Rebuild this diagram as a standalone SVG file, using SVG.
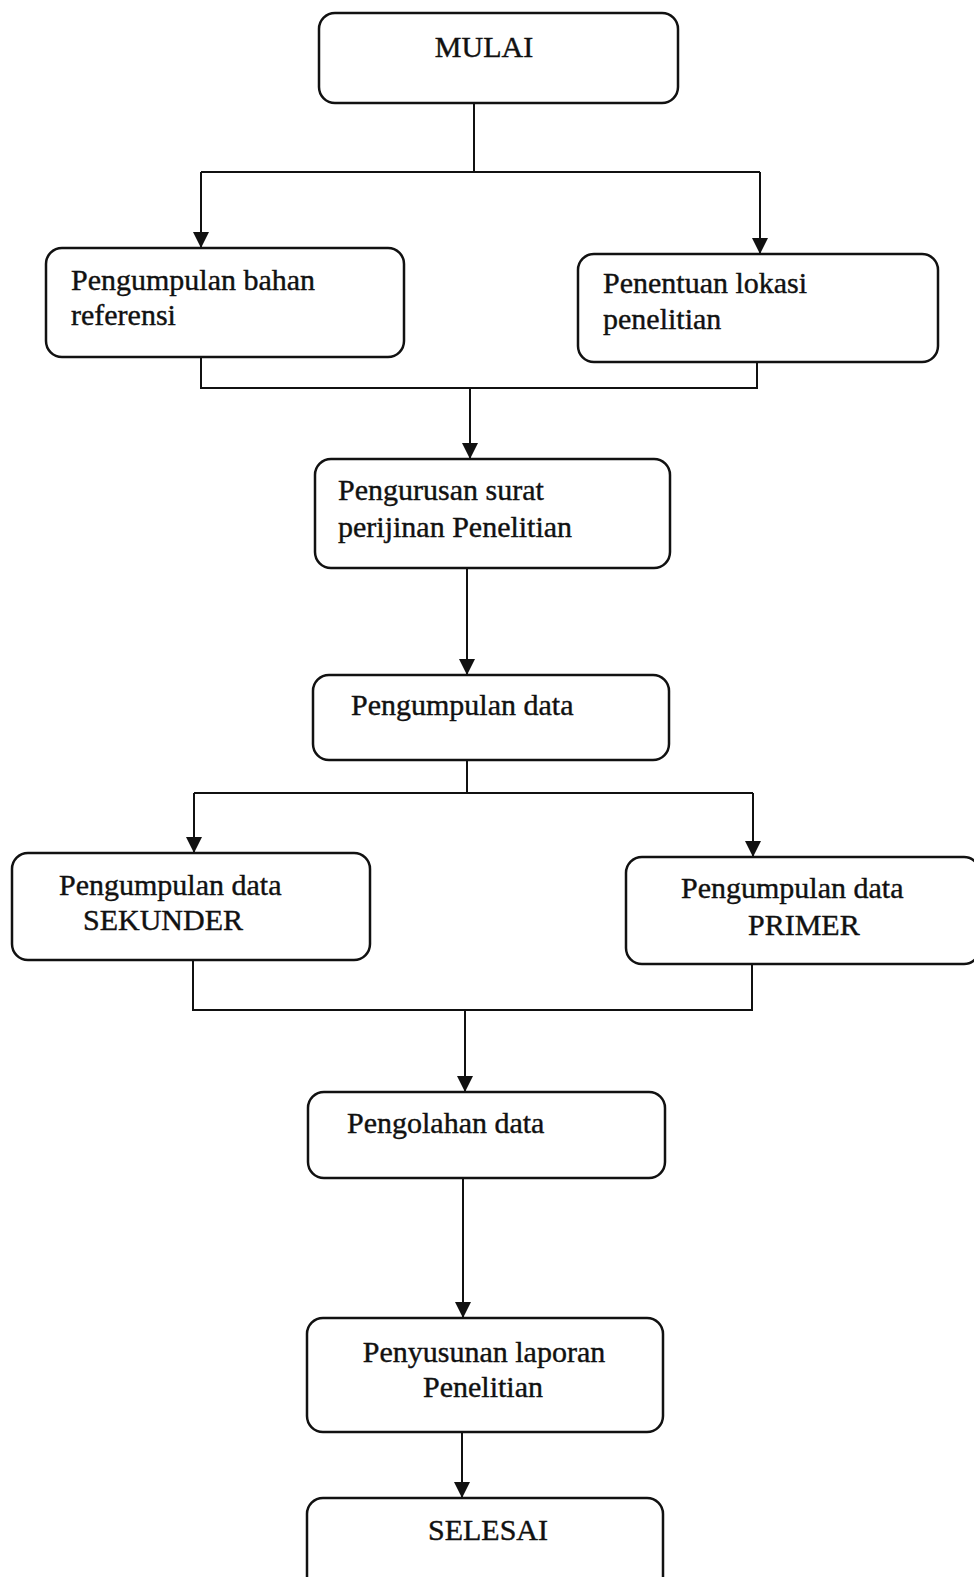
<svg xmlns="http://www.w3.org/2000/svg" width="974" height="1577" viewBox="0 0 974 1577">
<style>
.box{fill:#fff;stroke:#111;stroke-width:2.5}
.t{font-family:"Liberation Serif","Times New Roman",serif;font-size:30px;fill:#111;stroke:#111;stroke-width:0.4}
.c{text-anchor:middle}
.ln{fill:none;stroke:#111;stroke-width:2}
</style>
<defs>
<marker id="ah" markerUnits="userSpaceOnUse" markerWidth="18" markerHeight="18" refX="16" refY="8" orient="auto">
<path d="M0,0 L16,8 L0,16 z" fill="#111"/>
</marker>
</defs>
<rect width="974" height="1577" fill="#fff"/>
<g id="connectors">
<path class="ln" d="M474 103 V172"/>
<path class="ln" d="M201 172 H760"/>
<path class="ln" d="M201 172 V248" marker-end="url(#ah)"/>
<path class="ln" d="M760 172 V254" marker-end="url(#ah)"/>
<path class="ln" d="M201 357 V388 H757 V362"/>
<path class="ln" d="M470 389 V459" marker-end="url(#ah)"/>
<path class="ln" d="M467 568 V675" marker-end="url(#ah)"/>
<path class="ln" d="M467 760 V793"/>
<path class="ln" d="M194 793 H753"/>
<path class="ln" d="M194 793 V853" marker-end="url(#ah)"/>
<path class="ln" d="M753 793 V857" marker-end="url(#ah)"/>
<path class="ln" d="M193 960 V1010 H752 V964"/>
<path class="ln" d="M465 1010 V1092" marker-end="url(#ah)"/>
<path class="ln" d="M463 1178 V1318" marker-end="url(#ah)"/>
<path class="ln" d="M462 1432 V1498" marker-end="url(#ah)"/>
</g>
<g id="mulai">
<rect class="box" x="319" y="13" width="359" height="90" rx="16"/>
<text class="t c" x="484" y="57">MULAI</text>
</g>
<g id="referensi">
<rect class="box" x="46" y="248" width="358" height="109" rx="16"/>
<text class="t" x="71" y="290">Pengumpulan bahan</text>
<text class="t" x="71" y="325">referensi</text>
</g>
<g id="lokasi">
<rect class="box" x="578" y="254" width="360" height="108" rx="16"/>
<text class="t" x="603" y="293">Penentuan lokasi</text>
<text class="t" x="603" y="329">penelitian</text>
</g>
<g id="perijinan">
<rect class="box" x="315" y="459" width="355" height="109" rx="16"/>
<text class="t" x="338" y="500">Pengurusan surat</text>
<text class="t" x="338" y="537">perijinan Penelitian</text>
</g>
<g id="pengumpulan-data">
<rect class="box" x="313" y="675" width="356" height="85" rx="16"/>
<text class="t" x="351" y="715">Pengumpulan data</text>
</g>
<g id="sekunder">
<rect class="box" x="12" y="853" width="358" height="107" rx="16"/>
<text class="t" x="59" y="895">Pengumpulan data</text>
<text class="t" x="83" y="930">SEKUNDER</text>
</g>
<g id="primer">
<rect class="box" x="626" y="857" width="354" height="107" rx="16"/>
<text class="t" x="681" y="898">Pengumpulan data</text>
<text class="t" x="748" y="935">PRIMER</text>
</g>
<g id="pengolahan">
<rect class="box" x="308" y="1092" width="357" height="86" rx="16"/>
<text class="t" x="347" y="1133">Pengolahan data</text>
</g>
<g id="laporan">
<rect class="box" x="307" y="1318" width="356" height="114" rx="16"/>
<text class="t c" x="484" y="1362">Penyusunan laporan</text>
<text class="t c" x="483" y="1397">Penelitian</text>
</g>
<g id="selesai">
<rect class="box" x="307" y="1498" width="356" height="100" rx="16"/>
<text class="t c" x="488" y="1540">SELESAI</text>
</g>
</svg>
